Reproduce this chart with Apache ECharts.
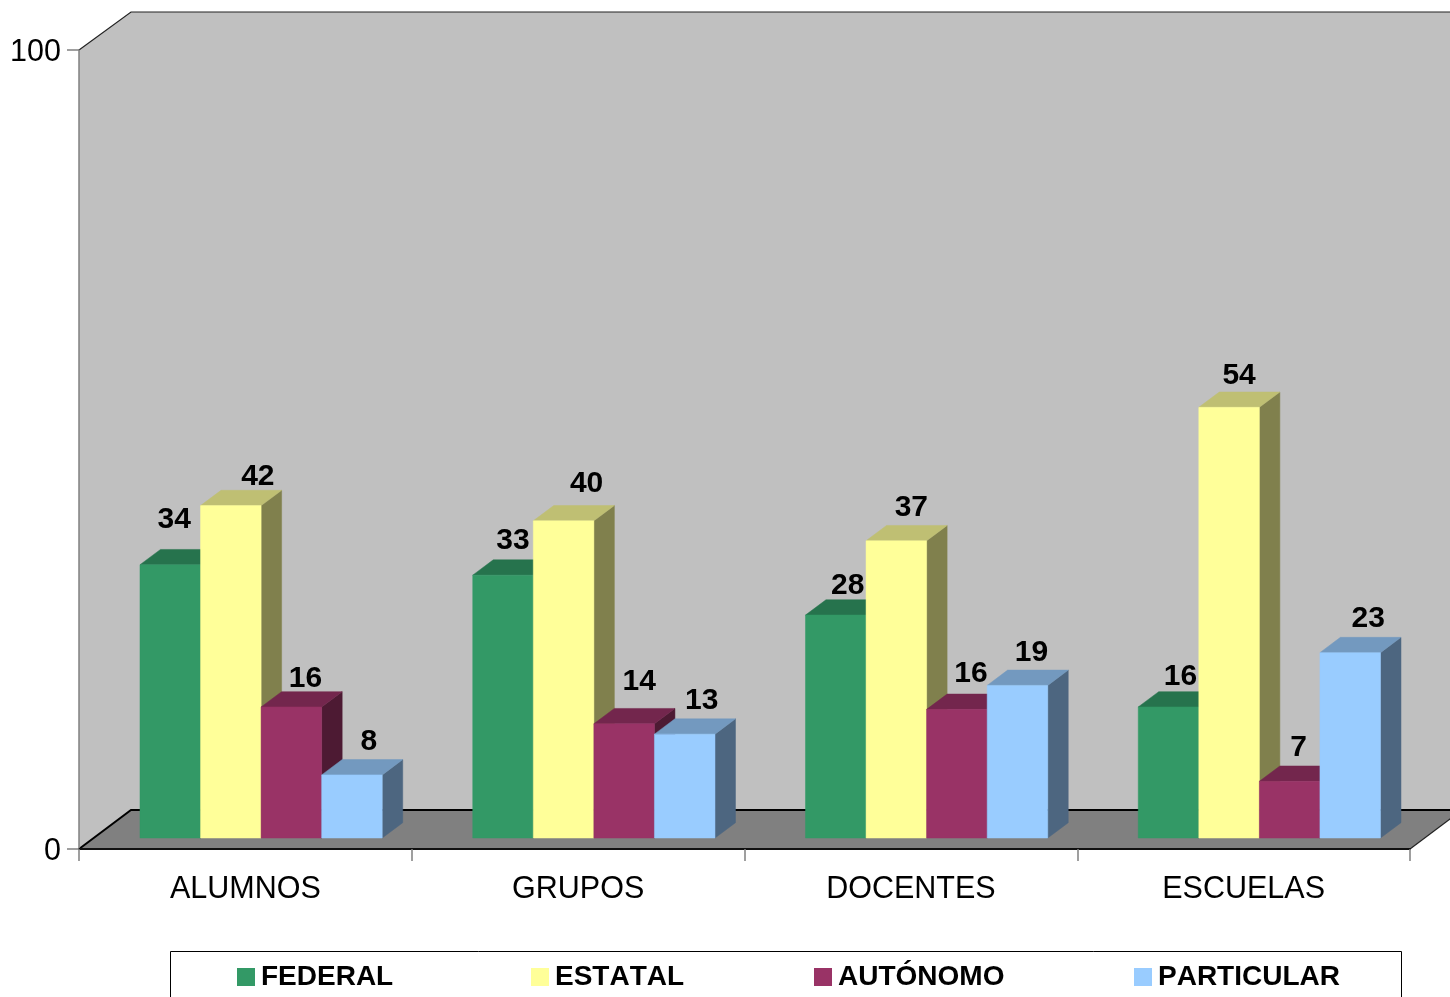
<!DOCTYPE html>
<html>
<head>
<meta charset="utf-8">
<style>html,body{margin:0;padding:0;background:#fff;overflow:hidden}#c{width:1450px;height:997px}</style>
<script src="https://cdn.jsdelivr.net/npm/echarts@6/dist/echarts.min.js"></script>
</head>
<body>
<div id="c"></div>
<script>
const categories = ['ALUMNOS', 'GRUPOS', 'DOCENTES', 'ESCUELAS'];
const seriesNames = ['FEDERAL', 'ESTATAL', 'AUTÓNOMO', 'PARTICULAR'];
const federal = [34.2, 32.9, 27.9, 16.4];
const estatal = [41.6, 39.7, 37.2, 53.9];
const autonomo = [16.4, 14.3, 16.1, 7.1];
const particular = [7.9, 13.0, 19.1, 23.2];
const yTicks = [0, 100];
const palette = ['#339966', '#FFFF99', '#993366', '#99CCFF'];
// per-label placement relative to each bar's front top edge (px)
const labelDx = [[4, 10, 12, 12], [27, 23, 15, 10], [14, 15, 14, 9], [17, 17, 14, 18]];
const labelDy = [[-45, -34, -29, -30], [-29, -37, -33, -32], [-28, -42, -36, -34], [-33, -33, -33, -34]];

const FONT = '"Liberation Sans", Arial, sans-serif';
const WALL_DX = 52, WALL_DY = 38, FLOOR_DY = 39;  // chart box depth
const BAR_DX = 20.5, BAR_DY = 15.3;   // bar depth
const BASE_LIFT = 11;                 // bars stand this far behind the front floor edge
const GAP_FRAC = 0.1833, BAR_FRAC = 0.182;

// The reference text is set without kerning.
const origGetContext = HTMLCanvasElement.prototype.getContext;
HTMLCanvasElement.prototype.getContext = function () {
  const ctx = origGetContext.apply(this, arguments);
  if (ctx && 'fontKerning' in ctx) ctx.fontKerning = 'none';
  return ctx;
};

function shade(hex, f) {
  const n = parseInt(hex.slice(1), 16);
  const c = [(n >> 16) & 255, (n >> 8) & 255, n & 255].map(v => Math.round(v * f));
  return 'rgb(' + c.join(',') + ')';
}

function renderBackdrop(params, api) {
  const o = api.coord([0, 0]), t = api.coord([0, 100]);
  const cs = params.coordSys;
  const xL = cs.x, xR = cs.x + cs.width, yB = o[1], yT = t[1];
  const wall = [[xL, yT], [xL + WALL_DX, yT - WALL_DY], [xR + WALL_DX, yT - WALL_DY], [xR + WALL_DX, yB - FLOOR_DY], [xL + WALL_DX, yB - FLOOR_DY], [xL, yB]];
  const floor = [[xL, yB], [xL + WALL_DX, yB - FLOOR_DY], [xR + WALL_DX, yB - FLOOR_DY], [xR, yB]];
  const line = (pts, w, col) => ({ type: 'polyline', shape: { points: pts }, style: { stroke: col, lineWidth: w, fill: null } });
  return {
    type: 'group',
    children: [
      { type: 'polygon', shape: { points: wall }, style: { fill: '#C0C0C0' } },
      { type: 'polygon', shape: { points: floor }, style: { fill: '#808080' } },
      line([[xL, yT], [xL + WALL_DX, yT - WALL_DY], [xR + WALL_DX, yT - WALL_DY]], 1.2, '#222'),
      line([[xL, yB], [xL + WALL_DX, yB - FLOOR_DY], [xR + WALL_DX, yB - FLOOR_DY]], 2, '#000'),
      line([[xR, yB], [xR + WALL_DX, yB - FLOOR_DY]], 1.2, '#222')
    ]
  };
}

function makeRenderer(si) {
  return function (params, api) {
    const cat = api.value(0), val = api.value(1);
    const band = api.size([1, 0])[0];
    const center = api.coord([cat, 0]);
    const top = api.coord([cat, val]);
    const w = band * BAR_FRAC;
    const x0 = center[0] - band / 2 + band * GAP_FRAC + si * w;
    const x1 = x0 + w;
    const yB = center[1] - BASE_LIFT, yT = top[1] - BASE_LIFT;
    const col = palette[si];
    const face = (pts, fill) => ({ type: 'polygon', shape: { points: pts }, style: { fill, stroke: fill, lineWidth: 0.5 } });
    return {
      type: 'group',
      children: [
        face([[x1, yB], [x1 + BAR_DX, yB - BAR_DY], [x1 + BAR_DX, yT - BAR_DY], [x1, yT]], shade(col, 0.5)),
        face([[x0, yT], [x0 + BAR_DX, yT - BAR_DY], [x1 + BAR_DX, yT - BAR_DY], [x1, yT]], shade(col, 0.75)),
        face([[x0, yB], [x1, yB], [x1, yT], [x0, yT]], col),
        {
          type: 'text', z2: 50,
          style: {
            text: String(Math.round(val)),
            x: x0 + w / 2 + labelDx[si][cat], y: yT + labelDy[si][cat],
            align: 'center', verticalAlign: 'middle',
            font: 'bold 30px ' + FONT, fill: '#000'
          }
        }
      ]
    };
  };
}

const seriesValues = [federal, estatal, autonomo, particular];
const series = [{
  type: 'custom', name: 'backdrop', z: -1, silent: true, clip: false,
  renderItem: renderBackdrop, data: [[0, 0]], encode: { x: 0, y: 1 }
}];
seriesValues.forEach((vals, si) => {
  series.push({
    type: 'custom', name: seriesNames[si], z: 4 + si, clip: false,
    itemStyle: { color: palette[si] },
    renderItem: makeRenderer(si),
    data: vals.map((v, i) => [i, v]),
    encode: { x: 0, y: 1 }
  });
});

const legendLefts = [237, 531, 814, 1134];
const chart = echarts.init(document.getElementById('c'), null, { renderer: 'canvas', width: 1450, height: 997 });
chart.setOption({
  animation: false,
  backgroundColor: '#fff',
  grid: { left: 79, right: 40, top: 50, height: 799, containLabel: false },
  xAxis: {
    type: 'category', data: categories,
    axisLine: { lineStyle: { color: '#111', width: 2 } },
    axisTick: { show: true, inside: false, length: 12, lineStyle: { color: '#808080', width: 1.5 } },
    axisLabel: { color: '#000', fontFamily: FONT, fontSize: 30.5, margin: 25 },
    splitLine: { show: false }
  },
  yAxis: {
    type: 'value', min: yTicks[0], max: yTicks[1], interval: 100,
    axisLine: { show: true, onZero: false, lineStyle: { color: '#808080', width: 1.5 } },
    axisTick: { show: true, inside: false, length: 12, lineStyle: { color: '#808080', width: 1.5 } },
    axisLabel: { color: '#000', fontFamily: FONT, fontSize: 30.5, margin: 18, verticalAlign: 'top', lineHeight: 6 },
    splitLine: { show: false }
  },
  legend: seriesNames.map((n, i) => ({
    data: [n], left: legendLefts[i], top: 963, padding: 0,
    icon: 'rect', itemWidth: 18, itemHeight: 18, itemGap: 0, selectedMode: false,
    textStyle: { color: '#000', fontFamily: FONT, fontWeight: 'bold', fontSize: 28, padding: [0, 0, 1, 1] }
  })),
  graphic: [{
    type: 'rect', z: 0, silent: true,
    shape: { x: 170.5, y: 951.5, width: 1231, height: 60 },
    style: { fill: '#fff', stroke: '#000', lineWidth: 1 }
  }],
  series
});
</script>
</body>
</html>
